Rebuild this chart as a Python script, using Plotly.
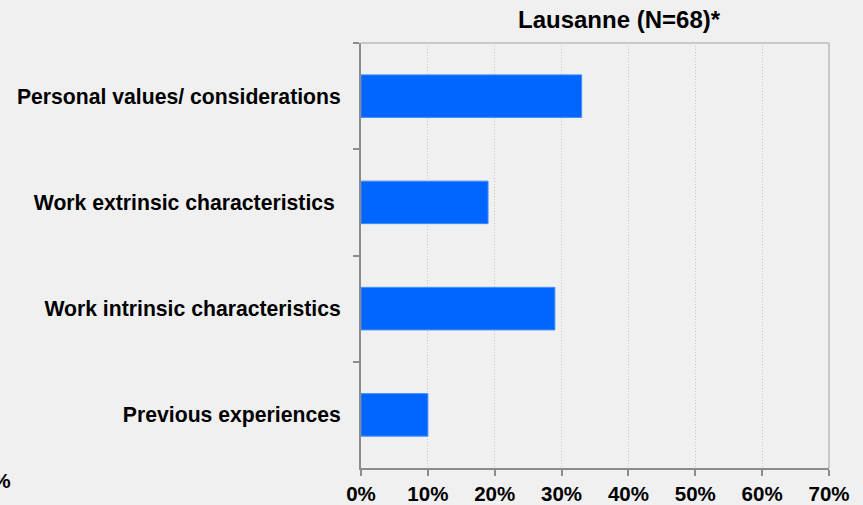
import plotly.graph_objects as go

categories = [
    "Personal values/ considerations",
    "Work extrinsic characteristics\u00a0",
    "Work intrinsic characteristics",
    "Previous experiences",
]
values = [0.33, 0.19, 0.29, 0.10]
x_ticks = [0, 0.1, 0.2, 0.3, 0.4, 0.5, 0.6, 0.7]
x_tick_labels = ["0%", "10%", "20%", "30%", "40%", "50%", "60%", "70%"]
title_text = "Lausanne (N=68)*"

W, H = 863, 505
L, R, T, B = 361, 34, 43, 37
pw, ph = W - L - R, H - T - B

font_family = "Liberation Sans, Arial, sans-serif"

fig = go.Figure()
fig.add_trace(go.Bar(
    x=values,
    y=categories,
    orientation="h",
    marker=dict(color="#0066ff", line=dict(color="#3d8bff", width=1)),
    hoverinfo="x+y",
))

fig.update_layout(
    width=W, height=H,
    margin=dict(l=L, r=R, t=T, b=B, pad=0, autoexpand=False),
    paper_bgcolor="#f0f0f0",
    plot_bgcolor="#f0f0f0",
    showlegend=False,
    bargap=0.6,
    font=dict(family=font_family, size=21, color="#000000"),
    xaxis=dict(
        range=[0, 0.7],
        tickvals=x_ticks,
        ticktext=x_tick_labels,
        showgrid=True,
        gridcolor="#c4c4c4",
        griddash="1px,2px",
        gridwidth=1,
        showline=True,
        linecolor="#8c8c8c",
        linewidth=2,
        ticks="outside",
        ticklen=6,
        tickcolor="#8c8c8c",
        tickwidth=2,
        tickfont=dict(family=font_family, size=20.5, color="#000000", weight="bold"),
        ticklabelstandoff=0,
        zeroline=False,
        fixedrange=True,
        automargin=False,
    ),
    yaxis=dict(
        autorange="reversed",
        showgrid=False,
        showline=True,
        linecolor="#8c8c8c",
        linewidth=2,
        ticks="outside",
        tickson="boundaries",
        ticklen=6,
        tickcolor="#8c8c8c",
        tickwidth=2,
        tickfont=dict(family=font_family, size=21.2, color="#000000", weight="bold"),
        ticklabelstandoff=14,
        zeroline=False,
        fixedrange=True,
        automargin=False,
    ),
    shapes=[
        dict(type="line", xref="paper", yref="paper", x0=0, x1=1, y0=1, y1=1,
             line=dict(color="#c8c8c8", width=2)),
        dict(type="line", xref="paper", yref="paper", x0=1, x1=1, y0=0, y1=1,
             line=dict(color="#c8c8c8", width=2)),
    ],
    annotations=[
        dict(text="<b>" + title_text + "</b>", xref="paper", yref="paper",
             x=(619 - L) / pw, y=1 + (T - 20) / ph, xanchor="center", yanchor="middle",
             showarrow=False, font=dict(family=font_family, size=24, color="#000000")),
        dict(text="<b>%</b>", xref="paper", yref="paper",
             x=(13 - L) / pw, y=(H - B - 480) / ph, xanchor="right", yanchor="middle",
             showarrow=False, font=dict(family=font_family, size=21, color="#000000")),
    ],
)

fig.write_html(
    "out.html",
    config={"displayModeBar": False, "staticPlot": False},
    post_script="document.body.style.margin='0';document.body.style.overflow='hidden';",
)
